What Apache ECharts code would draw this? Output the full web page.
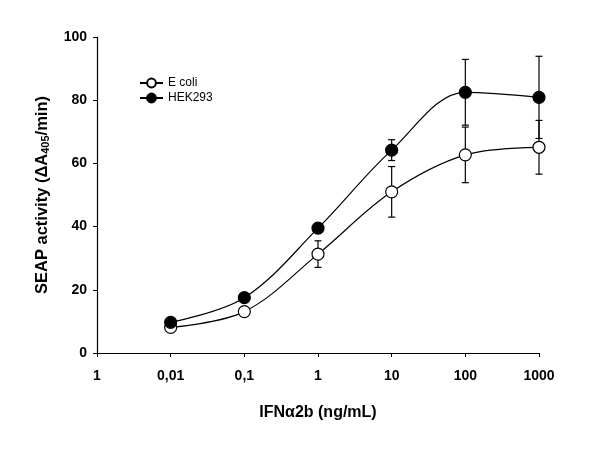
<!DOCTYPE html>
<html>
<head>
<meta charset="utf-8">
<script src="https://cdn.jsdelivr.net/npm/echarts@6/dist/echarts.min.js"></script>
<style>
  html, body { margin: 0; padding: 0; background: #fff; }
  #chart { width: 600px; height: 453px; }
</style>
</head>
<body>
<div id="chart"></div>
<script>
// tick labels along the x axis (as printed in the figure)
var tickLabels = ['1', '0,01', '0,1', '1', '10', '100', '1000'];
// dose positions on the axis (index of the tick label)
var doseIndex = [1, 2, 3, 4, 5, 6];

var eColi = [8.1, 13.1, 31.3, 51.0, 62.7, 65.1];
var eColiErr = [1.0, 1.0, 4.2, 8.0, 8.8, 8.5];
var hek293 = [9.7, 17.5, 39.5, 64.2, 82.5, 80.9];
var hek293Err = [1.0, 1.0, 1.5, 3.3, 10.4, 13.0];

var font = '"Liberation Sans", Arial, sans-serif';

function pairs(ys) {
	return doseIndex.map(function (x, i) { return [x, ys[i]]; });
}
function errData(ys, es) {
	return doseIndex.map(function (x, i) { return [x, ys[i] - es[i], ys[i] + es[i]]; });
}

// 误差棒
function renderErr(params, api) {
	var x = api.value(0);
	var lo = api.coord([x, api.value(1)]);
	var hi = api.coord([x, api.value(2)]);
	var w = 3.5;
	var st = { stroke: '#000', lineWidth: 1.2 };
	return {
		type: 'group',
		children: [
			{ type: 'line', shape: { x1: hi[0], y1: hi[1], x2: lo[0], y2: lo[1] }, style: st },
			{ type: 'line', shape: { x1: hi[0] - w, y1: hi[1], x2: hi[0] + w, y2: hi[1] }, style: st },
			{ type: 'line', shape: { x1: lo[0] - w, y1: lo[1], x2: lo[0] + w, y2: lo[1] }, style: st }
		]
	};
}

var myChart = echarts.init(document.getElementById('chart'));
var option = {
	animation: false,
	textStyle: { fontFamily: font },
	grid: { left: 97, right: 61, top: 37, bottom: 100 },
	legend: {
		orient: 'vertical',
		left: 134,
		top: 72,
		itemWidth: 23,
		itemHeight: 11,
		itemGap: 3,
		data: ['E coli', 'HEK293'],
		textStyle: { fontSize: 12, color: '#000', fontFamily: font }
	},
	xAxis: {
		type: 'value',
		min: 0,
		max: 6,
		interval: 1,
		name: 'IFN\u03b12b (ng/mL)',
		nameLocation: 'middle',
		nameGap: 52,
		nameTextStyle: { fontSize: 16, fontWeight: 'bold', color: '#000', fontFamily: font },
		axisLine: { lineStyle: { color: '#000', width: 1.2 } },
		axisTick: { length: 4, lineStyle: { color: '#000' } },
		axisLabel: {
			fontSize: 14, fontWeight: 'bold', color: '#000', margin: 16,
			formatter: function (v) { return tickLabels[v]; }
		},
		splitLine: { show: false }
	},
	yAxis: {
		type: 'value',
		min: 0,
		max: 100,
		interval: 20,
		name: '{a|SEAP activity (\u0394A}{s|405}{a|/min)}',
		nameLocation: 'middle',
		nameGap: 46,
		nameRotate: 90,
		nameTextStyle: {
			rich: {
				a: { fontSize: 16.5, fontWeight: 'bold', color: '#000', fontFamily: font, lineHeight: 20, verticalAlign: 'bottom' },
				s: { fontSize: 11, fontWeight: 'bold', color: '#000', fontFamily: font, lineHeight: 14, verticalAlign: 'bottom' }
			}
		},
		axisLine: { show: true, lineStyle: { color: '#000', width: 1.2 } },
		axisTick: { show: true, length: 4, lineStyle: { color: '#000' } },
		axisLabel: { fontSize: 14, fontWeight: 'bold', color: '#000', margin: 10 },
		splitLine: { show: false }
	},
	series: [
		{
			type: 'custom',
			renderItem: renderErr,
			data: errData(eColi, eColiErr),
			z: 1,
			silent: true
		},
		{
			type: 'custom',
			renderItem: renderErr,
			data: errData(hek293, hek293Err),
			z: 1,
			silent: true
		},
		{
			name: 'E coli',
			type: 'line',
			data: pairs(eColi),
			smooth: 0.35,
			symbol: 'circle',
			symbolSize: 12,
			z: 5,
			lineStyle: { color: '#000', width: 1.2 },
			itemStyle: { color: '#fff', borderColor: '#000', borderWidth: 1.2 }
		},
		{
			name: 'HEK293',
			type: 'line',
			data: pairs(hek293),
			smooth: 0.35,
			symbol: 'circle',
			symbolSize: 12,
			z: 6,
			lineStyle: { color: '#000', width: 1.2 },
			itemStyle: { color: '#000', borderColor: '#000', borderWidth: 1.2 }
		}
	]
};
myChart.setOption(option);
</script>
</body>
</html>
